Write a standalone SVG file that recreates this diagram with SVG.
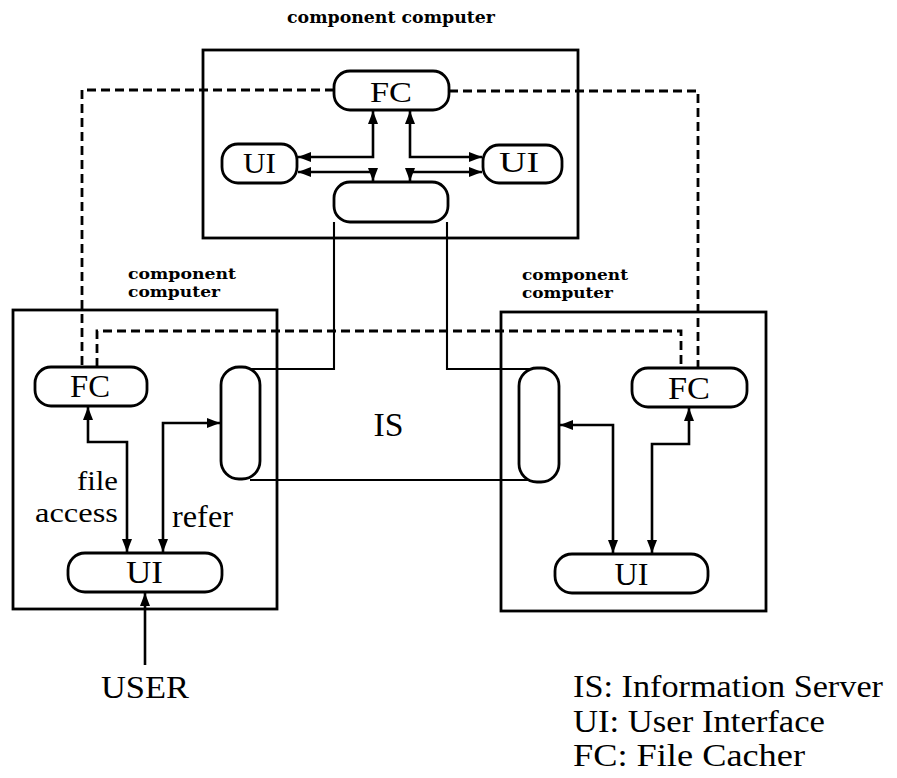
<svg xmlns="http://www.w3.org/2000/svg" width="897" height="778" viewBox="0 0 897 778">
<style>
.box{fill:none;stroke:#000;stroke-width:2.8}
.node{fill:#fff;stroke:#000;stroke-width:2.8}
.conn{fill:none;stroke:#000;stroke-width:2.6;marker-start:url(#ah);marker-end:url(#ah)}
.one{fill:none;stroke:#000;stroke-width:2.6;marker-end:url(#ah)}
.isl{fill:none;stroke:#000;stroke-width:2.1}
.dash{fill:none;stroke:#000;stroke-width:2.8;stroke-dasharray:9 5}
.t{font-family:"Liberation Serif","Times New Roman",serif;fill:#000}
.lbl{font-family:"DejaVu Serif","Liberation Serif",serif;font-weight:bold;font-size:15px;fill:#000}
</style>
<defs>
<marker id="ah" viewBox="0 0 13 10" markerWidth="13" markerHeight="10" refX="13" refY="5" orient="auto-start-reverse" markerUnits="userSpaceOnUse">
<path d="M0,0 L13,5 L0,10 z" fill="#000"/>
</marker>
</defs>
<rect width="897" height="778" fill="#fff"/>

<!-- computer boxes -->
<g id="top-computer">
<rect class="box" x="203" y="50" width="375" height="188"/>
<text class="lbl" x="287" y="23" font-size="17" style="font-size:17px" textLength="208" lengthAdjust="spacingAndGlyphs">component computer</text>
</g>
<g id="left-computer">
<rect class="box" x="13" y="310" width="264" height="299"/>
<text class="lbl" x="128" y="279" textLength="108" lengthAdjust="spacingAndGlyphs">component</text>
<text class="lbl" x="128" y="297" textLength="92" lengthAdjust="spacingAndGlyphs">computer</text>
</g>
<g id="right-computer">
<rect class="box" x="501" y="312" width="265" height="299"/>
<text class="lbl" x="522" y="280" textLength="106" lengthAdjust="spacingAndGlyphs">component</text>
<text class="lbl" x="522" y="298" textLength="91" lengthAdjust="spacingAndGlyphs">computer</text>
</g>

<!-- connectors -->
<g id="connectors">
<path class="dash" d="M334,90 H82 V367"/>
<path class="dash" d="M449,91 H698 V368"/>
<path class="dash" d="M97,367 V331 H681 V368"/>
<path class="isl" d="M334,222 V369 H250"/>
<path class="isl" d="M447,222 V369 H535"/>
<path class="isl" d="M250,480 H535"/>
<path class="conn" d="M373,111 V157 H298"/>
<path class="conn" d="M298,172 H373 V181"/>
<path class="conn" d="M410,111 V157 H482"/>
<path class="conn" d="M482,172 H410 V181"/>
<path class="conn" d="M88,407 V442 H127 V552"/>
<path class="conn" d="M163,552 V423 H220"/>
<path class="one" d="M145,665 V593"/>
<path class="conn" d="M560,425 H613 V553"/>
<path class="conn" d="M689,408 V444 H652 V553"/>
</g>

<!-- nodes -->
<g id="fc-top">
<rect class="node" x="334" y="71" width="115" height="39" rx="16"/>
<text class="t" x="391" y="102" font-size="30" text-anchor="middle" textLength="42" lengthAdjust="spacingAndGlyphs">FC</text>
</g>
<g id="ui-top-left">
<rect class="node" x="222" y="144" width="75" height="39" rx="16"/>
<text class="t" x="259.5" y="173" font-size="30" text-anchor="middle" textLength="33" lengthAdjust="spacingAndGlyphs">UI</text>
</g>
<g id="ui-top-right">
<rect class="node" x="483" y="145" width="79" height="38" rx="16"/>
<text class="t" x="519" y="172" font-size="30" text-anchor="middle" textLength="40" lengthAdjust="spacingAndGlyphs">UI</text>
</g>
<g id="is-top">
<rect class="node" x="334" y="182" width="114" height="40" rx="16"/>
</g>
<g id="fc-left">
<rect class="node" x="35" y="367" width="112" height="39" rx="16"/>
<text class="t" x="90" y="397" font-size="31" text-anchor="middle" textLength="40" lengthAdjust="spacingAndGlyphs">FC</text>
</g>
<g id="is-left">
<rect class="node" x="221" y="367" width="39" height="112" rx="18"/>
</g>
<g id="ui-left">
<rect class="node" x="68" y="553" width="154" height="39" rx="17"/>
<text class="t" x="144.5" y="583" font-size="32" text-anchor="middle" textLength="37" lengthAdjust="spacingAndGlyphs">UI</text>
</g>
<g id="fc-right">
<rect class="node" x="632" y="368" width="115" height="39" rx="16"/>
<text class="t" x="689" y="399" font-size="31" text-anchor="middle" textLength="42" lengthAdjust="spacingAndGlyphs">FC</text>
</g>
<g id="is-right">
<rect class="node" x="519" y="368" width="40" height="114" rx="18"/>
</g>
<g id="ui-right">
<rect class="node" x="555" y="554" width="153" height="39" rx="17"/>
<text class="t" x="631.5" y="585" font-size="32" text-anchor="middle" textLength="34" lengthAdjust="spacingAndGlyphs">UI</text>
</g>

<!-- texts -->
<g id="labels">
<text class="t" x="388.5" y="436" font-size="33" text-anchor="middle" textLength="30" lengthAdjust="spacingAndGlyphs">IS</text>
<text class="t" x="118" y="490" font-size="28" text-anchor="end" textLength="41" lengthAdjust="spacingAndGlyphs">file</text>
<text class="t" x="118" y="522" font-size="28" text-anchor="end" textLength="83" lengthAdjust="spacingAndGlyphs">access</text>
<text class="t" x="172" y="527" font-size="31" textLength="61" lengthAdjust="spacingAndGlyphs">refer</text>
<text class="t" x="145" y="698" font-size="32" text-anchor="middle" textLength="88" lengthAdjust="spacingAndGlyphs">USER</text>
</g>
<g id="legend">
<text class="t" x="573" y="697" font-size="31" textLength="310" lengthAdjust="spacingAndGlyphs">IS: Information Server</text>
<text class="t" x="573" y="732" font-size="31" textLength="252" lengthAdjust="spacingAndGlyphs">UI: User Interface</text>
<text class="t" x="573" y="766" font-size="31" textLength="232" lengthAdjust="spacingAndGlyphs">FC: File Cacher</text>
</g>
</svg>
